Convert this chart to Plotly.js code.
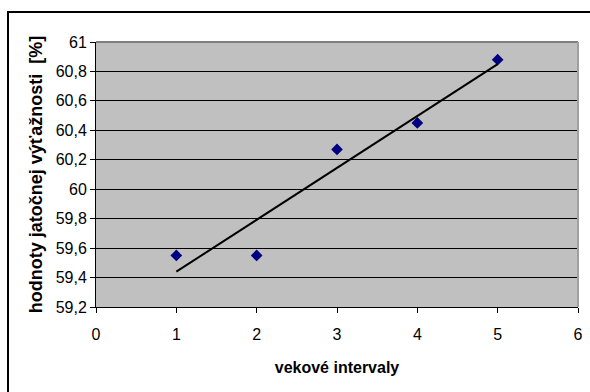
<!DOCTYPE html>
<html>
<head>
<meta charset="utf-8">
<script src="https://cdn.plot.ly/plotly-3.0.1.min.js"></script>
<style>
  html, body { margin: 0; padding: 0; background: #fff; }
  #wrap { position: relative; width: 590px; height: 392px; overflow: hidden; }
  #chart { width: 590px; height: 392px; }
  #frame { position: absolute; left: 7px; top: 11px; width: 600px; height: 400px;
           border-top: 2px solid #000; border-left: 2px solid #000; pointer-events: none; }
</style>
</head>
<body>
<div id="wrap">
  <div id="chart"></div>
  <div id="frame"></div>
</div>
<script>
// Data
const ageIntervals = [1, 2, 3, 4, 5];
const carcassYield = [59.55, 59.55, 60.27, 60.45, 60.88];
// Linear trend line endpoints (as drawn in the reference)
const trendX = [1, 5];
const trendY = [59.44, 60.85];
// Axis ticks
const xTickVals = [0, 1, 2, 3, 4, 5, 6];
const xTickLabels = ['0', '1', '2', '3', '4', '5', '6'];
const yTickVals = [59.2, 59.4, 59.6, 59.8, 60, 60.2, 60.4, 60.6, 60.8, 61];
const yTickLabels = ['59,2', '59,4', '59,6', '59,8', '60', '60,2', '60,4', '60,6', '60,8', '61'];

const font = 'Liberation Sans, Arial, sans-serif';

const traces = [
  {
    x: ageIntervals, y: carcassYield, type: 'scatter', mode: 'markers',
    marker: { symbol: 'diamond', size: 9, color: '#000080' },
    hoverinfo: 'skip', showlegend: false
  },
  {
    x: trendX, y: trendY, type: 'scatter', mode: 'lines',
    line: { color: '#000000', width: 2 },
    hoverinfo: 'skip', showlegend: false
  }
];

const layout = {
  width: 590, height: 392,
  margin: { l: 96, r: 12, t: 42, b: 85 },
  paper_bgcolor: '#ffffff',
  plot_bgcolor: '#c0c0c0',
  font: { family: font, size: 16, color: '#000' },
  showlegend: false,
  xaxis: {
    range: [0, 6], tickvals: xTickVals, ticktext: xTickLabels,
    showgrid: false, zeroline: false,
    showline: true, linecolor: '#000', linewidth: 1,
    ticks: 'outside', ticklen: 5, tickcolor: '#000', tickwidth: 1,
    ticklabelstandoff: 8,
    tickfont: { family: font, size: 16, color: '#000' },
    title: { text: 'vekové intervaly', font: { family: font, size: 16, color: '#000', weight: 'bold' }, standoff: 19 },
    fixedrange: true
  },
  yaxis: {
    range: [59.2, 61], tickvals: yTickVals, ticktext: yTickLabels,
    showgrid: true, gridcolor: '#000', gridwidth: 1, zeroline: false,
    showline: true, linecolor: '#000', linewidth: 1,
    ticks: 'outside', ticklen: 5, tickcolor: '#000', tickwidth: 1,
    tickfont: { family: font, size: 16, color: '#000' },
    title: { text: 'hodnoty jatočnej výťažnosti  [%]', font: { family: font, size: 18, color: '#000', weight: 'bold' }, standoff: 8 },
    fixedrange: true
  },
  shapes: [
    { type: 'line', xref: 'paper', yref: 'paper', x0: 0, x1: 1, y0: 1, y1: 1, line: { color: '#808080', width: 2 } },
    { type: 'line', xref: 'paper', yref: 'paper', x0: 1, x1: 1, y0: 0, y1: 1, line: { color: '#a0a0a0', width: 2 } }
  ]
};

Plotly.newPlot('chart', traces, layout, { staticPlot: true, displayModeBar: false });
</script>
</body>
</html>
